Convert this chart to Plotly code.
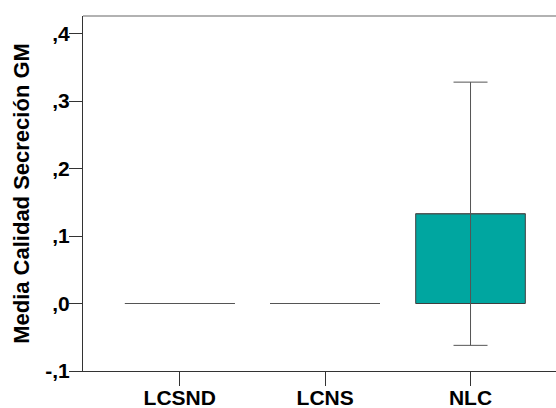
import plotly.graph_objects as go

# Group means and their error half-widths
categories = ["LCSND", "LCNS", "NLC"]
means = [0.0, 0.0, 0.133]
errors = [None, None, 0.195]

y_tick_values = [-0.1, 0.0, 0.1, 0.2, 0.3, 0.4]
y_tick_labels = ["-,1", ",0", ",1", ",2", ",3", ",4"]

BAR_WIDTH = 0.754
FONT = "Liberation Sans, Arial, sans-serif"
positions = list(range(len(categories)))

fig = go.Figure()

fig.add_trace(go.Bar(
    x=positions,
    y=means,
    width=BAR_WIDTH,
    marker=dict(color="#00A6A0", line=dict(color="#3f3f3f", width=1)),
    error_y=dict(type="data", array=errors, visible=True,
                 color="#555555", thickness=1, width=17),
    showlegend=False,
    hoverinfo="skip",
))

# Mean level drawn as a horizontal stroke across each bar slot,
# so groups whose mean is zero still show a visible mark.
seg_x, seg_y = [], []
for pos, m in zip(positions, means):
    seg_x += [pos - BAR_WIDTH / 2, pos + BAR_WIDTH / 2, None]
    seg_y += [m, m, None]
fig.add_trace(go.Scatter(
    x=seg_x, y=seg_y, mode="lines",
    line=dict(color="#555555", width=1),
    showlegend=False, hoverinfo="skip",
))

fig.update_layout(
    width=556, height=408,
    margin=dict(l=83, r=0, t=16, b=37),
    paper_bgcolor="white", plot_bgcolor="white",
    font=dict(family=FONT, color="#000000"),
    xaxis=dict(
        range=[-0.6655, 2.588], automargin=False,
        tickmode="array", tickvals=positions, ticktext=categories,
        tickfont=dict(family=FONT, size=21, color="#000000", weight="bold"),
        ticks="outside", ticklen=14, tickcolor="#333333", tickwidth=1,
        ticklabelstandoff=-6,
        showline=True, linecolor="#333333", linewidth=1,
        showgrid=False, zeroline=False, fixedrange=True,
    ),
    yaxis=dict(
        range=[-0.1, 0.426], automargin=False,
        tickmode="array", tickvals=y_tick_values, ticktext=y_tick_labels,
        tickfont=dict(family=FONT, size=21, color="#000000", weight="bold"),
        ticks="outside", ticklen=13, tickcolor="#333333", tickwidth=1,
        ticklabelstandoff=-5,
        showline=True, linecolor="#333333", linewidth=1,
        showgrid=False, zeroline=False, fixedrange=True,
        title=dict(text="Media Calidad Secreción GM",
                   font=dict(family=FONT, size=22, color="#000000", weight="bold"),
                   standoff=9),
    ),
    shapes=[dict(type="line", xref="paper", yref="paper",
                 x0=0, x1=1, y0=1, y1=1,
                 line=dict(color="#999999", width=1.5))],
)

fig.write_html("out.html")
